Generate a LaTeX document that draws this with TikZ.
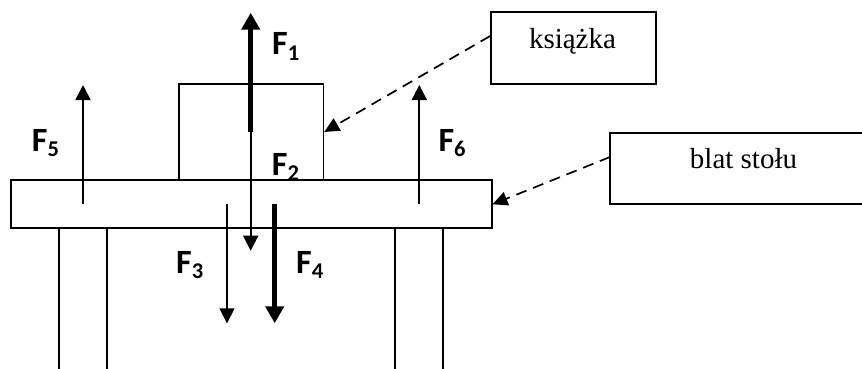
\documentclass[tikz,border=0pt]{standalone}
\usepackage{fontspec}
\setmainfont{Liberation Serif}
\newfontfamily\calib{Carlito}
\usetikzlibrary{arrows.meta}
\tikzset{
  outline/.style={draw, line width=1.7pt, inner sep=0pt},
  thinarrow/.style={line width=1.7pt, -{Triangle[length=15pt,width=15pt]}},
  thickarrow/.style={line width=5.5pt, -{Triangle[length=17pt,width=18pt]}},
  callout/.style={line width=1.7pt, dash pattern=on 11pt off 7pt, -{Triangle[length=15pt,width=14pt]}},
  flabel/.style={anchor=base west, inner sep=0pt, font=\calib\bfseries\fontsize{34}{34}\selectfont},
  boxtext/.style={anchor=base, inner sep=0pt, font=\fontsize{29}{29}\selectfont}
}
\newcommand{\Fsub}[1]{F\raisebox{-5.5pt}{\fontsize{22.5}{22.5}\selectfont #1}}
\begin{document}
\begin{tikzpicture}[x=1pt,y=-1pt]
\useasboundingbox (0,0) rectangle (862,369);
% table top and book
\node[outline, minimum width=480.7pt, minimum height=48pt] (top) at (251.3,204.3) {};
\node[outline, minimum width=144.3pt, minimum height=96pt] (book) at (251.2,132) {};
% legs
\coordinate (l1a) at (59,228.3); \coordinate (l1b) at (59,372);
\coordinate (l2a) at (107,228.3); \coordinate (l2b) at (107,372);
\coordinate (r1a) at (395.3,228.3); \coordinate (r1b) at (395.3,372);
\coordinate (r2a) at (443.3,228.3); \coordinate (r2b) at (443.3,372);
\draw[line width=1.7pt] (l1a) -- (l1b) (l2a) -- (l2b) (r1a) -- (r1b) (r2a) -- (r2b);
% force arrows
\coordinate (f1s) at (250.7,131.7); \coordinate (f1e) at (250.7,12.7);
\coordinate (f2e) at (250.7,250.7);
\coordinate (f3s) at (227,204); \coordinate (f3e) at (227,323.3);
\coordinate (f4s) at (274.7,204); \coordinate (f4e) at (274.7,323.3);
\coordinate (f5s) at (83,204); \coordinate (f5e) at (83,85);
\coordinate (f6s) at (419.3,204); \coordinate (f6e) at (419.3,85);
\draw[thickarrow] (f1s) -- (f1e);
\draw[thinarrow] (f1s) -- (f2e);
\draw[thinarrow] (f3s) -- (f3e);
\draw[thickarrow] (f4s) -- (f4e);
\draw[thinarrow] (f5s) -- (f5e);
\draw[thinarrow] (f6s) -- (f6e);
% labels
\node[flabel] (F1) at (272,55) {\Fsub{1}};
\node[flabel] (F2) at (271.7,175) {\Fsub{2}};
\node[flabel] (F3) at (176,273) {\Fsub{3}};
\node[flabel] (F4) at (296,273) {\Fsub{4}};
\node[flabel] (F5) at (31.7,151) {\Fsub{5}};
\node[flabel] (F6) at (438.3,151) {\Fsub{6}};
% callout boxes
\node[outline, minimum width=165pt, minimum height=72.6pt] (ks) at (573.5,48) {};
\node[boxtext] (kstext) at (572.5,48.3) {książka};
\coordinate (b1) at (865,132.7); \coordinate (b2) at (610,132.7);
\coordinate (b3) at (610,204); \coordinate (b4) at (865,204);
\draw[line width=1.7pt] (b1) -- (b2) -- (b3) -- (b4);
\node[boxtext] (bltext) at (743.5,168.3) {blat stołu};
\coordinate (blstart) at (610,157);
\draw[callout] ([yshift=12pt]ks.west) -- (book.east);
\draw[callout] (blstart) -- (top.east);
\end{tikzpicture}
\end{document}
